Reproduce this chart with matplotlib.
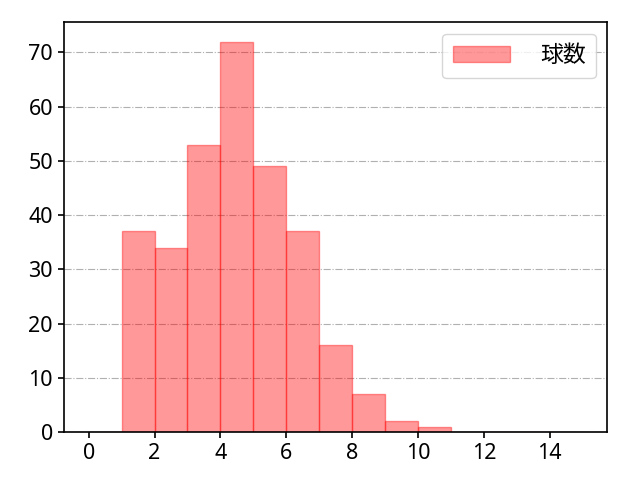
import numpy as np
import matplotlib
matplotlib.use("Agg")
from matplotlib import pyplot as plt

plt.rcParams['font.family'] = ['Noto Sans', 'Noto Sans CJK JP', 'DejaVu Sans']

# bin edges and counts per bin
edges = [0, 1, 2, 3, 4, 5, 6, 7, 8, 9, 10, 11, 12, 13, 14, 15]
counts = [0, 37, 34, 53, 72, 49, 37, 16, 7, 2, 1, 0, 0, 0, 0]
label = '球数'

fig, ax = plt.subplots(figsize=(6.4, 4.8), dpi=100)
ax.hist(edges[:-1], bins=edges, weights=counts, color='red', alpha=0.4,
        edgecolor='red', label=label)
ax.grid(axis='y', linestyle='-.', color='#b0b0b0', linewidth=0.8)
ax.set_axisbelow(True)
ax.set_xticks(range(0, 16, 2))
ax.tick_params(labelsize=15.5, length=4.5, width=1.2)
for s in ax.spines.values():
    s.set_linewidth(1.2)
ax.legend(fontsize=16.5, loc='upper right', handlelength=2.5, borderpad=0.45,
          handletextpad=1.3)
fig.subplots_adjust(left=0.1, right=0.949, top=0.954, bottom=0.1)
fig.savefig('out.png')
